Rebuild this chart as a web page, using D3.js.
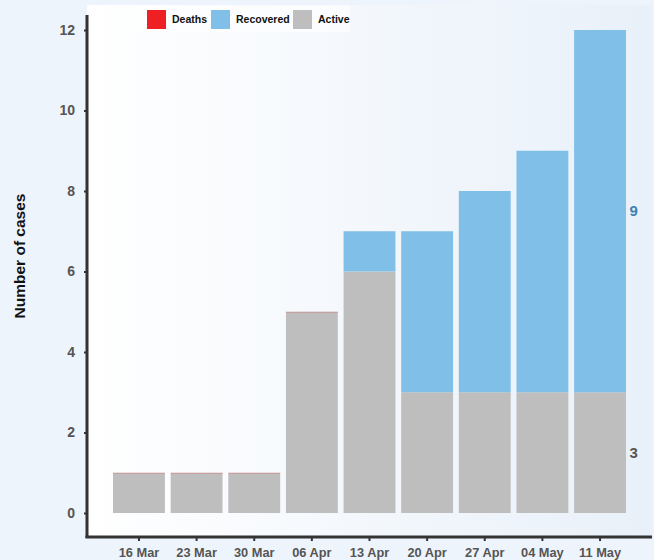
<!DOCTYPE html>
<html><head><meta charset="utf-8">
<script src="https://cdn.jsdelivr.net/npm/d3@7"></script>
<style>body{margin:0;background:#eef4fb;}svg{display:block;font-family:Arial,"Liberation Sans",sans-serif;}</style>
</head><body><svg id="c" width="654" height="560"></svg>
<script>
const categories = ["16 Mar","23 Mar","30 Mar","06 Apr","13 Apr","20 Apr","27 Apr","04 May","11 May"];
const active    = [1,1,1,5,6,3,3,3,3];
const recovered = [0,0,0,0,1,4,5,6,9];
const deaths    = [0,0,0,0,0,0,0,0,0];
const yTicks = [0,2,4,6,8,10,12];
const seriesNames = ["Deaths","Recovered","Active"];
const colors = {Deaths:"#ee2024", Recovered:"#80bfe8", Active:"#bebebe"};

(function(){
const svg = d3.select("#c");
const defs = svg.append("defs");
const g1 = defs.append("linearGradient").attr("id","bg").attr("x1","0").attr("x2","1").attr("y1","0").attr("y2","0");
g1.append("stop").attr("offset","0").attr("stop-color","#ffffff");
g1.append("stop").attr("offset","1").attr("stop-color","#e8f0f9");

const axX=87, axY=537, plotTop=5, plotRight=652;
svg.append("rect").attr("x",axX).attr("y",plotTop).attr("width",plotRight-axX).attr("height",axY-plotTop).attr("fill","url(#bg)");

const x = d3.scaleBand().domain(categories).range([111.3,627.7]).paddingInner(0.1).paddingOuter(0.03);
const y = d3.scaleLinear().domain([0,12]).range([513,30]);

const rows = categories.map((c,i)=>({cat:c, Active:active[i], Recovered:recovered[i], Deaths:deaths[i]}));
const stack = d3.stack().keys(["Active","Recovered","Deaths"])(rows);

const gb = svg.append("g");
stack.forEach(s=>{
  gb.selectAll(null).data(s).join("rect")
    .attr("x",d=>x(d.data.cat)).attr("width",x.bandwidth())
    .attr("y",d=>y(d[1])).attr("height",d=>y(d[0])-y(d[1]))
    .attr("fill",colors[s.key]);
});
gb.selectAll(null).data(rows.filter(r=>r.Recovered===0)).join("rect")
  .attr("x",d=>x(d.cat)).attr("width",x.bandwidth())
  .attr("y",d=>y(d.Active)).attr("height",1)
  .attr("fill",colors.Deaths).attr("opacity",0.25);

const ya = svg.append("g").attr("transform",`translate(${axX},0)`)
  .call(d3.axisLeft(y).tickValues(yTicks).tickSize(3).tickPadding(9));
ya.select(".domain").remove();
ya.selectAll(".tick line").attr("stroke","#333").attr("stroke-width",2);
ya.selectAll(".tick text").attr("font-size",14).attr("font-weight","bold").attr("fill","#555").attr("font-family","Arial,'Liberation Sans',sans-serif");
svg.append("line").attr("x1",axX).attr("x2",axX).attr("y1",plotTop+10).attr("y2",axY+1).attr("stroke","#333").attr("stroke-width",3);

const xa = svg.append("g").attr("transform",`translate(0,${axY})`)
  .call(d3.axisBottom(x).tickSize(4).tickPadding(7));
xa.select(".domain").remove();
xa.selectAll(".tick line").attr("stroke","#333").attr("stroke-width",2);
xa.selectAll(".tick text").attr("font-size",12.8).attr("font-weight","bold").attr("fill","#555").attr("font-family","Arial,'Liberation Sans',sans-serif");
svg.append("line").attr("x1",axX-1.5).attr("x2",plotRight).attr("y1",axY).attr("y2",axY).attr("stroke","#333").attr("stroke-width",3);

svg.append("text").attr("transform","translate(25,256) rotate(-90)").attr("text-anchor","middle")
  .attr("font-size",15.5).attr("font-weight","bold").attr("fill","#111").text("Number of cases");

const last = rows[rows.length-1];
svg.append("text").attr("x",629.5).attr("y",y(last.Active+last.Recovered/2)).attr("dy","0.35em")
  .attr("font-size",15).attr("font-weight","bold").attr("fill","#3d7fb3").text(last.Recovered);
svg.append("text").attr("x",629.5).attr("y",y(last.Active/2)).attr("dy","0.35em")
  .attr("font-size",15).attr("font-weight","bold").attr("fill","#555").text(last.Active);

const lg = svg.append("g");
lg.append("rect").attr("x",137).attr("y",6).attr("width",213).attr("height",26).attr("fill","#fff").attr("opacity",0.6);
const lx = [147,211,293];
seriesNames.forEach((n,i)=>{
  lg.append("rect").attr("x",lx[i]).attr("y",10).attr("width",19).attr("height",19).attr("fill",colors[n]);
  lg.append("text").attr("x",lx[i]+25).attr("y",19.5).attr("dy","0.35em").attr("font-size",10.5).attr("font-weight","bold").attr("fill","#111").text(n);
});
})();
</script></body></html>
